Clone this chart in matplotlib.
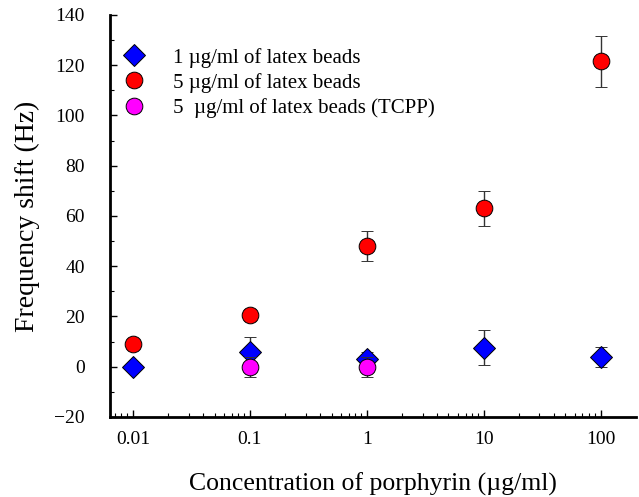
import numpy as np
import matplotlib
matplotlib.use("Agg")
import matplotlib.pyplot as plt
from matplotlib.ticker import MultipleLocator, FixedLocator, FixedFormatter

plt.rcParams['font.family'] = ['Liberation Serif', 'DejaVu Serif']

# data
conc = [0.01, 0.1, 1, 10, 100]
shift_1ug = [0, 6, 3, 7.5, 4]
err_1ug = [0, 6, 3, 7, 4]
shift_5ug = [9, 20.5, 48, 63, 121.5]
err_5ug = [0, 2.5, 6, 7, 10]
conc_tcpp = [0.1, 1]
shift_tcpp = [0, 0]
err_tcpp = [4, 4]

fig = plt.figure(figsize=(6.39, 4.97), dpi=100)
ax = fig.add_axes([0.172, 0.161, 0.823, 0.809])

ebkw = dict(ecolor='#333333', elinewidth=1, capsize=4, capthick=1, linestyle='none',
            markeredgecolor='black', markeredgewidth=0.7)
ax.errorbar(conc, shift_5ug, yerr=err_5ug, marker='o', markersize=12,
            markerfacecolor='red', label='5 µg/ml of latex beads', zorder=3, **ebkw)
ax.errorbar(conc, shift_1ug, yerr=err_1ug, marker='D', markersize=11,
            markerfacecolor='blue', label='1 µg/ml of latex beads', zorder=4, **ebkw)
ax.errorbar(conc_tcpp, shift_tcpp, yerr=err_tcpp, marker='o', markersize=12,
            markerfacecolor='magenta', label='5  µg/ml of latex beads (TCPP)', zorder=5, **ebkw)

ax.set_xscale('log')
ax.set_xlim(0.00637, 200)
ax.set_ylim(-20, 140)
ax.xaxis.set_major_locator(FixedLocator(conc))
ax.xaxis.set_major_formatter(FixedFormatter(['0.01', '0.1', '1', '10', '100']))
minors = [m * d for d in [0.001, 0.01, 0.1, 1, 10] for m in range(2, 10)]
ax.xaxis.set_minor_locator(FixedLocator(minors))
ax.yaxis.set_minor_locator(MultipleLocator(10))
ax.set_yticks(range(-20, 141, 20))
ax.set_yticklabels(['\u221220'] + [str(v) for v in range(0, 141, 20)])

for s in ['top', 'right']:
    ax.spines[s].set_visible(False)
for s in ['left', 'bottom']:
    ax.spines[s].set_linewidth(2)
ax.tick_params(which='both', direction='in', labelsize=14)
ax.tick_params(which='major', length=5, width=1)
ax.tick_params(which='minor', length=3, width=0.8)
ax.tick_params(axis='x', pad=10)
ax.tick_params(axis='y', pad=18)

ax.set_xlabel('Concentration of porphyrin (µg/ml)', fontsize=18.5, labelpad=18)
ax.set_ylabel('Frequency shift (Hz)', fontsize=20, labelpad=10)

h, l = ax.get_legend_handles_labels()
order = [1, 0, 2]
ax.legend([h[i][0] for i in order], [l[i] for i in order], loc='upper left',
          bbox_to_anchor=(-0.03, 0.965), frameon=False, fontsize=15,
          handletextpad=0.9, labelspacing=0.25, borderaxespad=0.5)

fig.savefig('out.png', dpi=100)
